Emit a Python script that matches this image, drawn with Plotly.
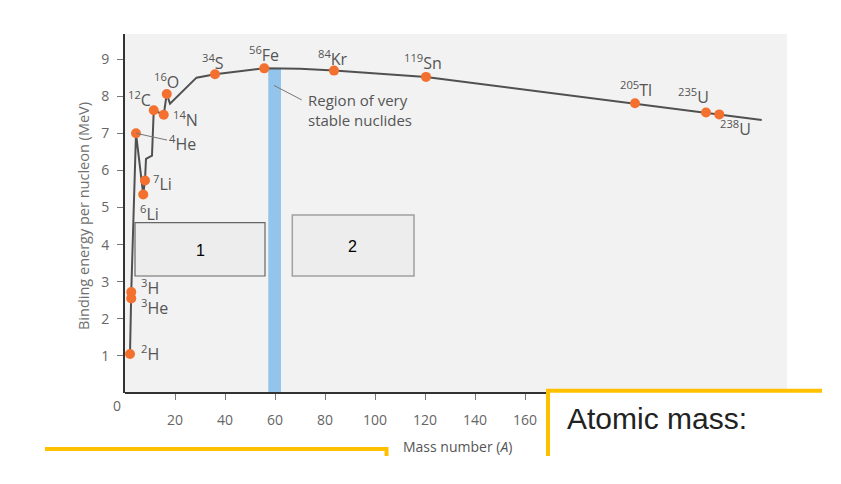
import plotly.graph_objects as go

# nuclides on the curve (mass number, binding energy per nucleon in MeV)
nuclides = ["<sup>2</sup>H", "<sup>3</sup>H", "<sup>3</sup>He", "<sup>4</sup>He", "<sup>6</sup>Li",
            "<sup>7</sup>Li", "<sup>12</sup>C", "<sup>14</sup>N", "<sup>16</sup>O", "<sup>34</sup>S",
            "<sup>56</sup>Fe", "<sup>84</sup>Kr", "<sup>119</sup>Sn", "<sup>205</sup>Tl",
            "<sup>235</sup>U", "<sup>238</sup>U"]
mass = [2, 2.5, 2.5, 4.4, 7.3, 8, 11.5, 15.5, 16.7, 36, 55.7, 83.6, 120.4, 204, 232.4, 237.7]
energy = [1.05, 2.72, 2.55, 7.0, 5.35, 5.73, 7.62, 7.5, 8.06, 8.59, 8.75, 8.69, 8.52, 7.81, 7.56, 7.51]

# vertices of the drawn curve
curve_mass = [2, 2.5, 2.5, 4.4, 7.3, 8, 8.4, 10.8, 11.5, 15.5, 16.7, 18, 28.6, 36, 55.7, 70,
              83.6, 120.4, 204, 232.4, 237.7, 254.7]
curve_energy = [1.05, 2.55, 2.72, 7.0, 5.35, 5.73, 6.31, 6.4, 7.62, 7.5, 8.06, 7.8, 8.5, 8.59,
                8.75, 8.74, 8.69, 8.52, 7.81, 7.56, 7.51, 7.36]

# stable region band
band_mass = [57.3, 62.4]
band_top = 8.75

x_ticks = [20, 40, 60, 80, 100, 120, 140, 160]
y_ticks = [1, 2, 3, 4, 5, 6, 7, 8, 9]

# label placement: (xanchor, xshift, yshift), None = leader line
label_pos = [("left", 9, 1), ("left", 8, 5), ("left", 8, -9), None, ("left", -5, -18),
             ("left", 6, -3), ("right", -1, 11), ("left", 7, -4), ("center", 0, 13),
             ("center", -2, 12), ("center", 0, 14), ("center", -1, 13), ("center", -3, 15),
             ("center", 1, 14), ("center", -13, 17), ("center", 16, -14)]

# page puts the plot div 8px in from the corner
OFF = 8
L, T, W, H = 125 - OFF, 34 - OFF, 662, 359


def px(x):
    return (x - OFF - L) / W


def py(y):
    return (T + H - (y - OFF)) / H


GRAY = "#555555"
YELLOW = "#FFC000"
FONT = "Open Sans"

fig = go.Figure()

fig.add_trace(go.Scatter(x=curve_mass, y=curve_energy, mode="lines",
                         line=dict(color="#505050", width=2), hoverinfo="skip"))
fig.add_trace(go.Scatter(x=mass, y=energy, mode="markers", text=nuclides,
                         marker=dict(color="#f4702f", size=10)))

shapes = [
    dict(type="rect", xref="x", yref="y", x0=band_mass[0], x1=band_mass[1], y0=0, y1=band_top,
         fillcolor="#93c5ec", line=dict(width=0), layer="below"),
    dict(type="line", xref="x", yref="y", x0=59.6, y0=8.29, x1=70.7, y1=7.9,
         line=dict(color="#777777", width=1)),
    dict(type="line", xref="paper", yref="paper", x0=0, x1=px(548), y0=0, y1=0,
         line=dict(color="#333333", width=2)),
    dict(type="rect", xref="paper", yref="paper", x0=px(135), x1=px(265), y0=py(276), y1=py(222.7),
         fillcolor="#ededed", line=dict(color="#666666", width=1.2)),
    dict(type="rect", xref="paper", yref="paper", x0=px(292.3), x1=px(414), y0=py(276), y1=py(215),
         fillcolor="#ededed", line=dict(color="#a0a0a0", width=1.5)),
    dict(type="rect", xref="paper", yref="paper", x0=px(548), x1=px(845), y0=py(484), y1=py(390.7),
         fillcolor="white", line=dict(width=0)),
    dict(type="line", xref="paper", yref="paper", x0=px(546), x1=px(822), y0=py(390.7), y1=py(390.7),
         line=dict(color=YELLOW, width=4)),
    dict(type="line", xref="paper", yref="paper", x0=px(548), x1=px(548), y0=py(389), y1=py(456),
         line=dict(color=YELLOW, width=4)),
    dict(type="line", xref="paper", yref="paper", x0=px(45), x1=px(388), y0=py(449), y1=py(449),
         line=dict(color=YELLOW, width=4)),
    dict(type="line", xref="paper", yref="paper", x0=px(386.5), x1=px(386.5), y0=py(447), y1=py(456),
         line=dict(color=YELLOW, width=4)),
]

annotations = []
for name, a, e, pos in zip(nuclides, mass, energy, label_pos):
    if pos is None:
        annotations.append(dict(x=a, y=e, xref="x", yref="y", text=name, showarrow=True,
                                arrowhead=0, arrowwidth=1, arrowcolor="#777777", ax=46, ay=10,
                                font=dict(family=FONT, size=16, color=GRAY)))
    else:
        annotations.append(dict(x=a, y=e, xref="x", yref="y", text=name, showarrow=False,
                                xanchor=pos[0], yanchor="middle", xshift=pos[1], yshift=pos[2],
                                font=dict(family=FONT, size=16, color=GRAY)))


def note(x, y, text, size, color, family=FONT, xanchor="center", **kw):
    return dict(x=px(x), y=py(y), xref="paper", yref="paper", text=text, showarrow=False,
                xanchor=xanchor, yanchor="middle", font=dict(family=family, size=size, color=color), **kw)


annotations += [
    note(306, 110, "Region of very<br>stable nuclides", 15, GRAY, xanchor="left", align="left"),
    note(117, 405, "0", 14, "#666666"),
    note(200, 250.7, "1", 16, "black", family="Liberation Sans"),
    note(352.7, 246.7, "2", 16, "black", family="Liberation Sans"),
    note(83, 216, "Binding energy per nucleon (MeV)", 14.5, "#707070", textangle=-90),
    note(457, 446, "Mass number (<i>A</i>)", 14, GRAY),
    note(565, 418, "Atomic mass:", 30, "#222222", family="Liberation Sans", xanchor="left"),
]

fig.update_layout(
    width=841, height=484,
    margin=dict(l=L, r=841 - L - W, t=T, b=484 - T - H),
    plot_bgcolor="#f2f2f2", paper_bgcolor="white",
    showlegend=False,
    shapes=shapes, annotations=annotations,
    xaxis=dict(range=[0, W / 2.5], tickvals=x_ticks, showgrid=False, zeroline=False,
               showline=False, ticks="outside", ticklen=6, tickcolor="#777777",
               ticklabelstandoff=8, tickfont=dict(family=FONT, size=14, color="#666666")),
    yaxis=dict(range=[0, H / 37.1], tickvals=y_ticks, showgrid=False, zeroline=False,
               showline=True, linecolor="#333333", linewidth=2, ticks="outside", ticklen=6,
               tickcolor="#777777", ticklabelstandoff=5,
               tickfont=dict(family=FONT, size=14, color="#666666")),
)

fig.write_html("out.html")
